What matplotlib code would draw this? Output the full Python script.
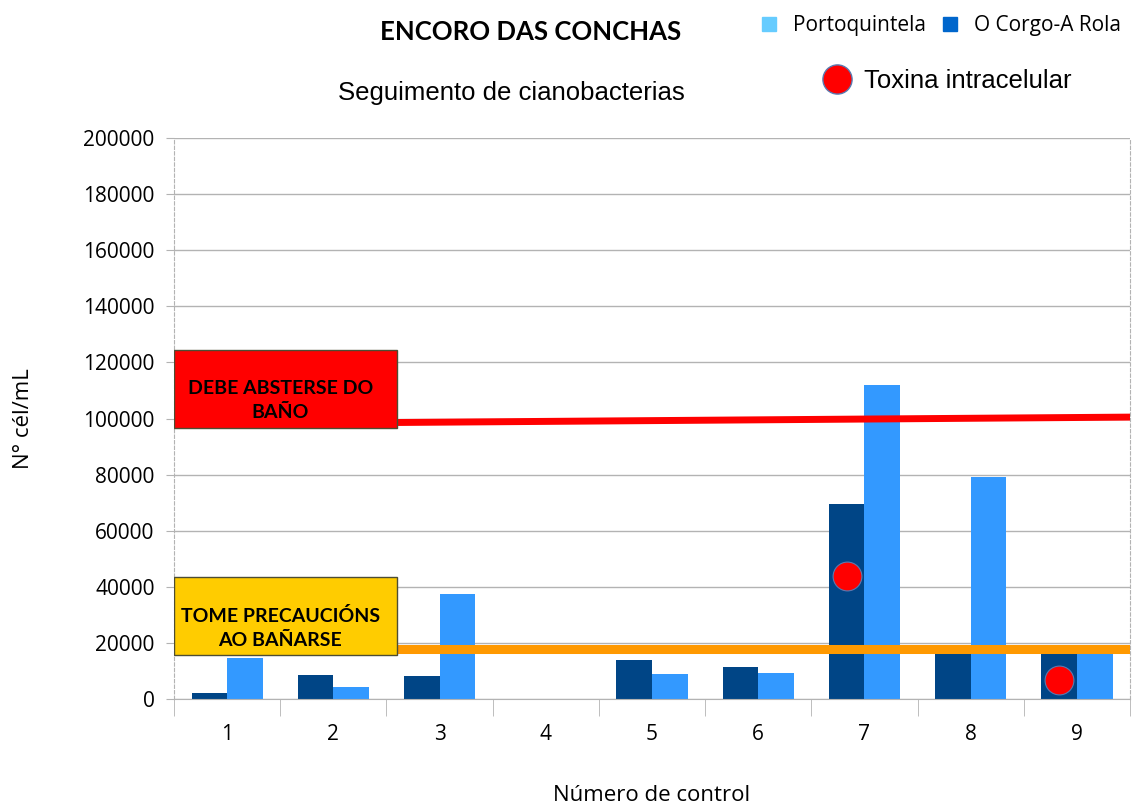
import matplotlib.pyplot as plt
from matplotlib.patches import Patch, Rectangle
from matplotlib.lines import Line2D

# data
controls = [1, 2, 3, 4, 5, 6, 7, 8, 9]
corgo_rola = [2200, 8500, 8200, 0, 13900, 11400, 69500, 16500, 16000]
portoquintela = [14800, 4300, 37400, 0, 8900, 9300, 112000, 79100, 16000]
toxin_controls = [7, 9]
toxin_values = [44000, 6800]
limit_bathe = [98000, 100500]   # red line, left / right end
limit_caution = [18000, 18000]  # orange line
box_bathe = (96600, 124400)
box_caution = (15700, 43500)
y_ticks = list(range(0, 200001, 20000))

DARK = "#004586"
LIGHT = "#3399ff"

fig = plt.figure(figsize=(11.33, 8.07), dpi=100)
ax = fig.add_axes([0.1536, 0.1338, 0.8438, 0.6952])

w = 0.335
ax.bar([c - w / 2 for c in controls], corgo_rola, width=w, color=DARK, zorder=2)
ax.bar([c + w / 2 for c in controls], portoquintela, width=w, color=LIGHT, zorder=2)

ax.plot([0.5, 9.5], limit_bathe, color="#ff0000", lw=5, zorder=3, solid_capstyle="butt")
ax.plot([0.5, 9.5], limit_caution, color="#ff9900", lw=6.5, zorder=3, solid_capstyle="butt")

ax.scatter([c - w / 2 for c in toxin_controls], toxin_values, s=430,
           color="#ff0000", edgecolors="#5a79b0", linewidths=0.8, zorder=5)

# warning boxes
for (lo, hi), col, txt in [
    (box_bathe, "#ff0000", "DEBE ABSTERSE DO\nBAÑO"),
    (box_caution, "#ffcc00", "TOME PRECAUCIÓNS\nAO BAÑARSE"),
]:
    ax.add_patch(Rectangle((0.5, lo), 2.1, hi - lo, facecolor=col,
                           edgecolor="#4d4d33", lw=1, zorder=6))
    ax.text(1.5, lo + (hi - lo) * 0.35, txt, ha="center", va="center",
            fontsize=14, fontweight="bold", family="Lato", zorder=7,
            linespacing=1.5)

ax.set_xlim(0.5, 9.5)
ax.set_ylim(0, 200000)
ax.set_yticks(y_ticks)
ax.set_yticklabels([str(v) for v in y_ticks], family="Open Sans", fontsize=15)
ax.set_xticks(controls)
ax.set_xticklabels([str(c) for c in controls], family="Open Sans", fontsize=15)
ax.set_xticks([c + 0.5 for c in range(0, 10)], minor=True)
ax.tick_params(axis="x", which="major", length=0, pad=18)
ax.tick_params(axis="x", which="minor", length=12, color="#b3b3b3")
ax.tick_params(axis="y", length=6, color="#b3b3b3", pad=8)
ax.yaxis.grid(True, color="#b3b3b3", lw=1, zorder=0)
ax.set_axisbelow(True)

ax.spines["top"].set_visible(False)
ax.spines["bottom"].set_color("#b3b3b3")
ax.spines["left"].set_color("#b3b3b3")
ax.spines["left"].set_linestyle((0, (3, 2)))
ax.spines["right"].set_color("#b3b3b3")
ax.spines["right"].set_linestyle((0, (3, 2)))

ax.set_ylabel("N° cél/mL", family="Open Sans", fontsize=16, labelpad=35)
ax.set_xlabel("Número de control", family="Open Sans", fontsize=16, labelpad=29)

fig.text(0.468, 0.96, "ENCORO DAS CONCHAS", ha="center", va="center",
         family="Lato", fontweight="bold", fontsize=18.5)
fig.text(0.451, 0.885, "Seguimento de cianobacterias", ha="center", va="center",
         family="Liberation Sans", fontsize=18.5)

fig.legend(handles=[Patch(color="#66ccff", label="Portoquintela"),
                    Patch(color="#0066cc", label="O Corgo-A Rola")],
           loc="center right", bbox_to_anchor=(1.006, 0.968), ncol=2,
           frameon=False, handlelength=0.7, handleheight=0.7,
           handletextpad=0.8, columnspacing=0.8,
           prop={"family": "Open Sans", "size": 15})
fig.legend(handles=[Line2D([], [], marker="o", ls="none", markersize=21,
                           markerfacecolor="#ff0000", markeredgecolor="#5a79b0",
                           label="Toxina intracelular")],
           loc="center right", bbox_to_anchor=(0.966, 0.9), frameon=False,
           handletextpad=0.05, prop={"family": "Liberation Sans", "size": 18.5})

fig.savefig("out.png", dpi=100)
